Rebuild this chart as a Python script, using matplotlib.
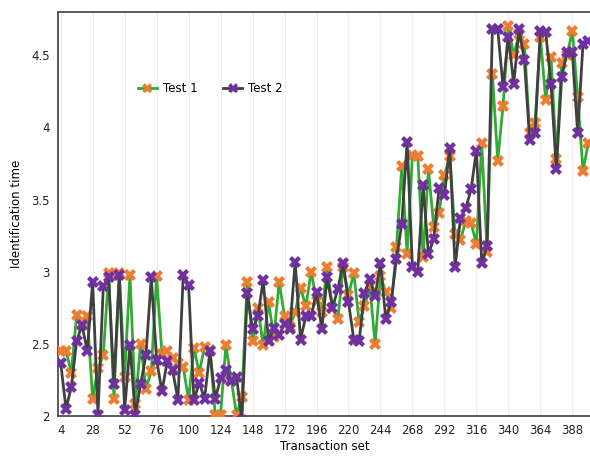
import numpy as np
import matplotlib
matplotlib.use("Agg")
import matplotlib.pyplot as plt

# transaction set ids (category axis, one point every 4)
transaction_set = np.arange(4, 401, 4)
x_ticks = [4, 28, 52, 76, 100, 124, 148, 172, 196, 220, 244, 268, 292, 316, 340, 364, 388]

test1 = [
    2.45, 2.45, 2.30, 2.70, 2.64, 2.69, 2.12, 2.33, 2.42, 2.99,
    2.12, 2.99, 2.27, 2.98, 2.08, 2.50, 2.19, 2.31, 2.97, 2.43,
    2.45, 2.40, 2.37, 2.34, 2.11, 2.47, 2.30, 2.48, 2.46, 2.01,
    2.01, 2.49, 2.25, 2.01, 2.13, 2.93, 2.52, 2.75, 2.49, 2.79,
    2.55, 2.93, 2.69, 2.62, 2.72, 2.89, 2.76, 3.00, 2.80, 2.72,
    3.03, 2.75, 2.67, 3.03, 2.84, 2.99, 2.65, 2.76, 2.90, 2.50,
    2.97, 2.86, 2.75, 3.17, 3.73, 3.12, 3.81, 3.80, 3.10, 3.71,
    3.31, 3.41, 3.67, 3.80, 3.26, 3.22, 3.35, 3.34, 3.19, 3.89,
    3.14, 4.37, 3.77, 4.15, 4.70, 4.50, 4.65, 4.58, 3.96, 4.03,
    4.63, 4.19, 4.49, 3.78, 4.45, 4.50, 4.67, 4.21, 3.70, 3.89,
]
test2 = [
    2.37, 2.05, 2.20, 2.52, 2.63, 2.45, 2.93, 2.01, 2.90, 2.96,
    2.22, 2.98, 2.04, 2.49, 2.01, 2.22, 2.42, 2.96, 2.39, 2.17,
    2.38, 2.32, 2.11, 2.98, 2.91, 2.11, 2.23, 2.12, 2.45, 2.12,
    2.26, 2.32, 2.24, 2.27, 1.97, 2.85, 2.60, 2.69, 2.94, 2.52,
    2.61, 2.56, 2.64, 2.60, 3.07, 2.53, 2.69, 2.69, 2.86, 2.60,
    2.96, 2.75, 2.88, 3.06, 2.79, 2.53, 2.52, 2.85, 2.95, 2.83,
    3.06, 2.67, 2.79, 3.09, 3.33, 3.90, 3.03, 3.00, 3.60, 3.12,
    3.23, 3.58, 3.53, 3.86, 3.03, 3.37, 3.44, 3.57, 3.84, 3.06,
    3.18, 4.68, 4.68, 4.28, 4.63, 4.30, 4.68, 4.47, 3.91, 3.96,
    4.67, 4.66, 4.30, 3.71, 4.35, 4.52, 4.52, 3.96, 4.58, 4.60,
]

plt.rcParams["font.family"] = ["DejaVu Sans"]
plt.rcParams["font.size"] = 8.5

fig = plt.figure(figsize=(5.9, 4.62), dpi=100)
# right edge of the plot runs off the picture, as in the source
ax = fig.add_axes([58 / 590, 46 / 462, 533 / 590, 404 / 462])

ax.plot(transaction_set, test1, color="#35a935", linewidth=2, marker="X",
        markersize=8, markerfacecolor="#ed7d31", markeredgewidth=0,
        label="Test 1", zorder=3)
ax.plot(transaction_set, test2, color="#404040", linewidth=2, marker="X",
        markersize=8, markerfacecolor="#7030a0", markeredgewidth=0,
        label="Test 2", zorder=4)

ax.set_xlim(2, 402)
ax.set_ylim(2, 4.8)
ax.set_xticks(x_ticks)
ax.set_yticks([2, 2.5, 3, 3.5, 4, 4.5])
ax.set_yticklabels(["2", "2.5", "3", "3.5", "4", "4.5"])
ax.tick_params(length=0, colors="#222222", pad=6)
ax.grid(axis="x", color="#ececec", linewidth=0.8)
ax.set_axisbelow(True)
for s in ax.spines.values():
    s.set_color("#404040")
    s.set_linewidth(1.2)

ax.set_xlabel("Transaction set", labelpad=2)
ax.set_ylabel("Identification time", labelpad=6)

ax.legend(loc="center left", bbox_to_anchor=(0.13, 0.81), ncol=2,
          frameon=False, handlelength=1.6, columnspacing=2.2,
          handletextpad=0.5, markerscale=0.9)

fig.savefig("out.png", dpi=100)
